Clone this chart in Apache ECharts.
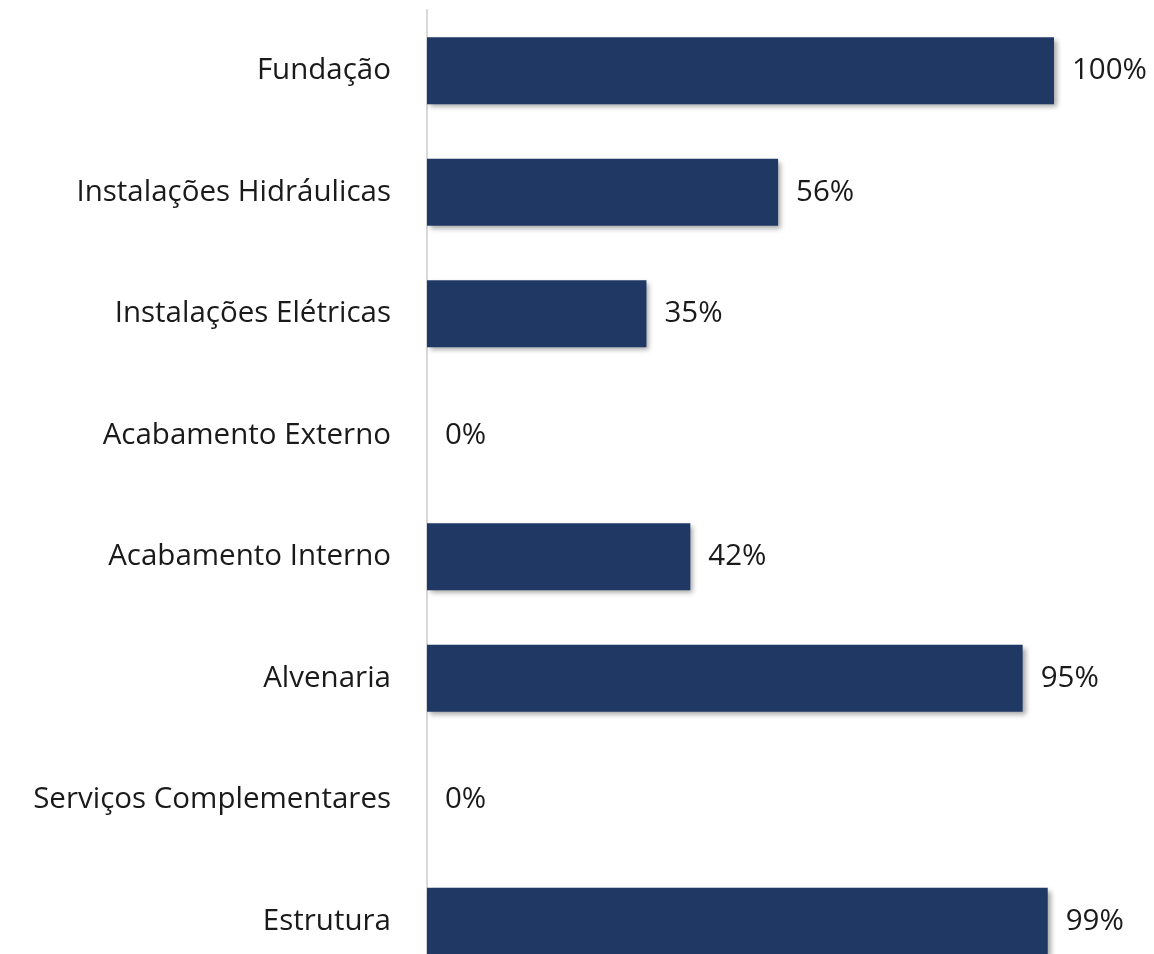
<!DOCTYPE html>
<html>
<head>
<meta charset="utf-8">
<script src="https://cdn.jsdelivr.net/npm/echarts@6/dist/echarts.min.js"></script>
<style>
html,body{margin:0;padding:0;background:#fff;}
#chart{width:1154px;height:954px;}
</style>
</head>
<body>
<div id="chart"></div>
<script>
const categories = ["Fundação","Instalações Hidráulicas","Instalações Elétricas","Acabamento Externo","Acabamento Interno","Alvenaria","Serviços Complementares","Estrutura"];
const values = [100, 56, 35, 0, 42, 95, 0, 99];

const chart = echarts.init(document.getElementById('chart'), null, {renderer: 'canvas'});
chart.setOption({
  animation: false,
  backgroundColor: '#ffffff',
  grid: {left: 427, right: 100, top: 10, height: 972, containLabel: false, outerBoundsMode: 'none'},
  xAxis: {
    type: 'value', min: 0, max: 100, show: false,
    splitLine: {show: false}
  },
  yAxis: {
    type: 'category', data: categories, inverse: true,
    axisLine: {show: true, lineStyle: {color: '#d9d9d9', width: 2}},
    axisTick: {show: false},
    axisLabel: {margin: 36, color: '#1a1a1a', fontSize: 29.5, fontFamily: 'Open Sans', padding: [5, 0, 0, 0]}
  },
  series: [{
    type: 'bar',
    data: values,
    barWidth: 67,
    itemStyle: {
      color: '#203864',
      shadowColor: 'rgba(0,0,0,0.35)',
      shadowBlur: 5,
      shadowOffsetX: 3,
      shadowOffsetY: 3
    },
    label: {
      show: true, position: 'right', distance: 18,
      formatter: p => p.value + '%',
      color: '#1a1a1a', fontSize: 29.5, fontFamily: 'Open Sans', padding: [6, 0, 0, 0]
    }
  }]
});
</script>
</body>
</html>
